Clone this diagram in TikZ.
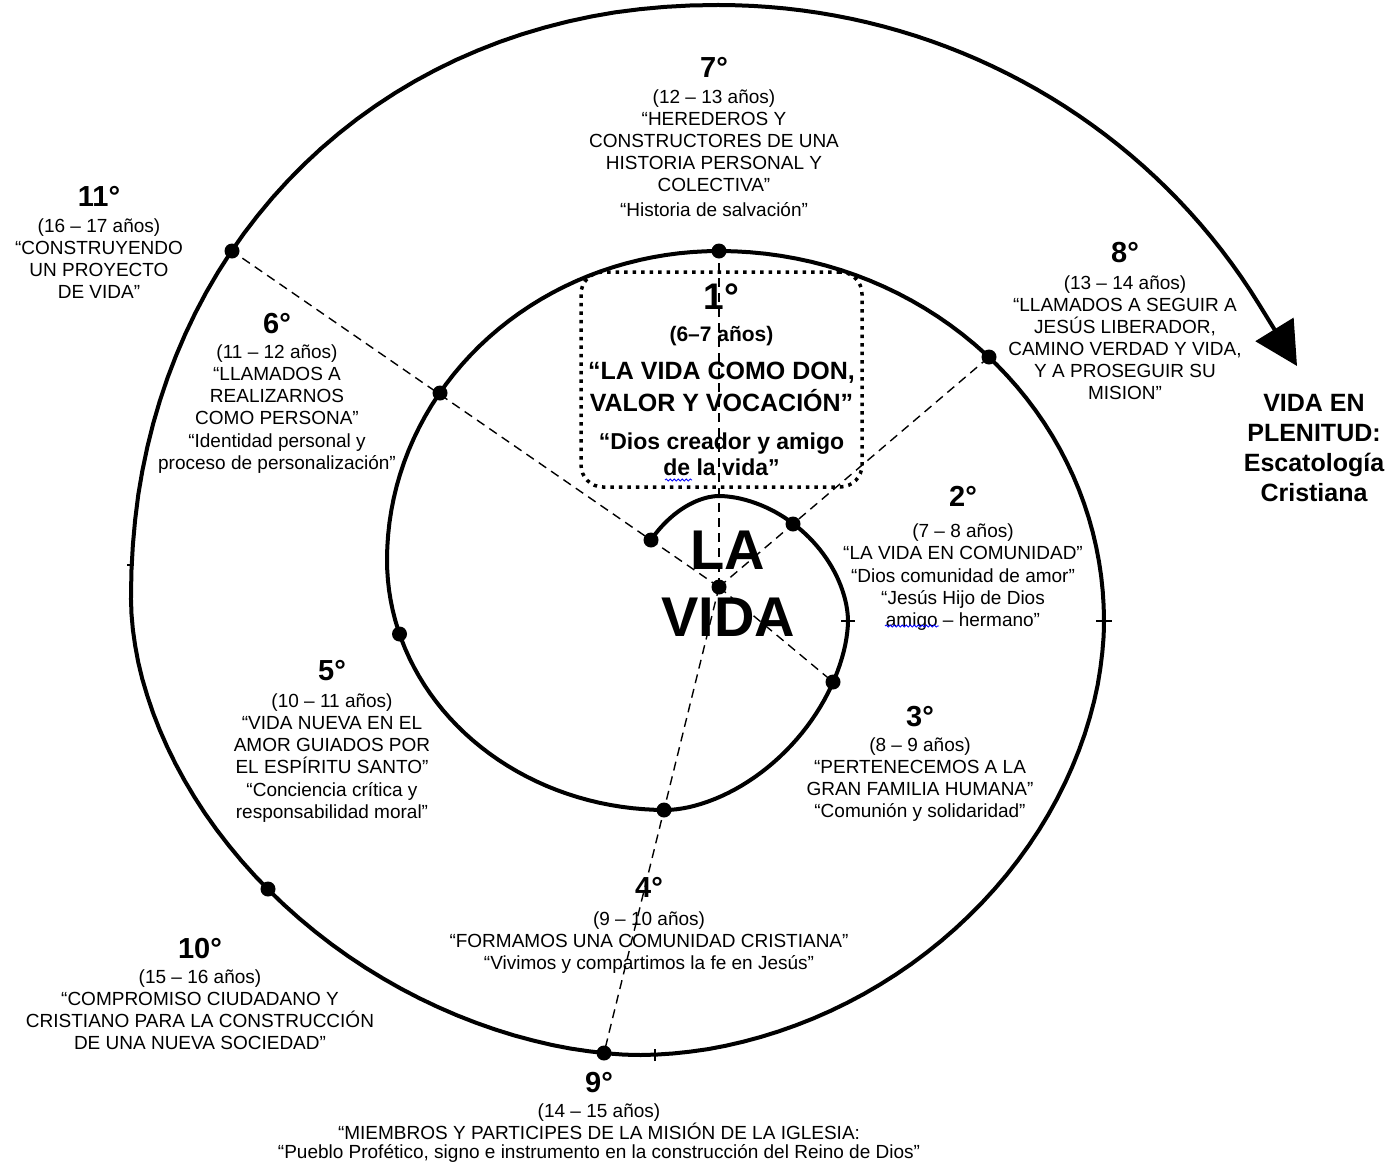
\documentclass[tikz,border=0pt]{standalone}
\usepackage{fontspec}
\setmainfont{Liberation Sans}
\usetikzlibrary{arrows.meta,decorations.pathmorphing}
\newcommand{\etapa}[1]{{\fontsize{29}{29}\selectfont\bfseries #1}}
\newcommand{\tramo}[7]{-- plot[domain=#6:#7, samples=40]
  ({#1+#3*sign(cos(\x))*abs(cos(\x))^#5}, {#2+#4*sign(sin(\x))*abs(sin(\x))^#5})}

\begin{document}
\begin{tikzpicture}[x=1pt, y=-1pt,
  etiqueta/.style={align=center, inner sep=0pt, anchor=north,
                   font=\fontsize{19}{22}\selectfont},
  caja/.style={draw, line width=3.5pt, dash pattern=on 3.5pt off 5pt,
               rounded corners=22pt, minimum width=281pt, minimum height=215pt,
               align=center, inner sep=0pt, font=\fontsize{25}{32}\selectfont\bfseries},
  espiral/.style={line width=4pt, line join=round, -{Triangle[length=43pt, width=44pt]}},
  rayo/.style={dash pattern=on 9pt off 6pt, line width=1.4pt},
  marca/.style={line width=1.4pt},
  ondulado/.style={draw=blue, line width=0.8pt, decorate,
                   decoration={snake, amplitude=1.1pt, segment length=4pt}}]

\useasboundingbox (0,0) rectangle (1391,1162);

\coordinate (c) at (719,587);
\coordinate (e1) at (651,540);
\coordinate (e2) at (793,524);
\coordinate (e3) at (833,682);
\coordinate (e4) at (664,810);
\coordinate (e5) at (399.5,634);
\coordinate (e6) at (440,393);
\coordinate (e7) at (719,251);
\coordinate (e8) at (989,357);
\coordinate (e9) at (604,1053);
\coordinate (e10) at (268,889);
\coordinate (e11) at (232,251);
\coordinate (fin) at (1297,366);

\draw[rayo] (c) -- (e7);
\draw[rayo] (c) -- (e8);
\draw[rayo] (c) -- (e11);
\draw[rayo] (c) -- (e3);
\draw[rayo] (c) -- (e9);

\draw[espiral] (e1)
  \tramo{719}{621}{95}{125}{1.099}{222.5}{269.95}
  \tramo{719}{621}{129}{125}{1.099}{270.05}{359.95}
  \tramo{666}{621}{182}{189}{1.143}{0.05}{89.95}
  \tramo{666}{560}{279}{250}{1}{90.05}{179.95}
  \tramo{719}{560}{332}{309}{1}{180.05}{269.95}
  \tramo{719}{621}{385}{370}{1}{270.05}{359.95}
  \tramo{640}{621}{464}{434}{1.053}{0.05}{89.95}
  \tramo{640}{600}{509}{455}{1.093}{90.05}{179.95}
  \tramo{719}{600}{588}{595}{0.952}{180.05}{269.95}
  \tramo{719}{625}{631}{620}{1}{270.05}{328.85}
  -- (fin);

\foreach \p in {c,e1,e2,e3,e4,e5,e6,e7,e8,e9,e10,e11}
  \fill (\p) circle (7.5);

\coordinate (j1) at (848,621);
\coordinate (j2) at (1104,621);
\coordinate (j3) at (655,1055);
\coordinate (j4) at (131,565);
\draw[marca] ([xshift=-7pt]j1) -- ([xshift=7pt]j1);
\draw[marca] ([xshift=-8pt]j2) -- ([xshift=8pt]j2);
\draw[marca] ([yshift=-6pt]j3) -- ([yshift=6pt]j3);
\draw[marca] ([xshift=-4pt]j4) -- ([xshift=3pt]j4);

\node[caja] (g1) at (721.5,379.5) {{\fontsize{37}{37}\selectfont 1°}\\
  {\fontsize{21}{21}\selectfont (6–7 años)}\\[6pt]
  “LA VIDA COMO DON,\\VALOR Y VOCACIÓN”\\[6pt]
  {\fontsize{23}{23}\selectfont “Dios creador y amigo}\\[-6pt]
  {\fontsize{23}{23}\selectfont de la vida”}};

\node[font=\fontsize{56}{67}\selectfont\bfseries, align=center, inner sep=0pt]
  (vida) at (728,583.5) {LA\\VIDA};

\node[etiqueta] (g2) at (963,485.6) {\etapa{2°}\\[9.5pt]
  (7 – 8 años)\\“LA VIDA EN COMUNIDAD”\\[1pt]“Dios comunidad de amor”\\
  “Jesús Hijo de Dios\\amigo – hermano”};
\node[etiqueta] (g3) at (920,705.6) {\etapa{3°}\\[3.5pt]
  (8 – 9 años)\\“PERTENECEMOS A LA\\GRAN FAMILIA HUMANA”\\
  “Comunión y solidaridad”};
\node[etiqueta] (g4) at (649,877.6) {\etapa{4°}\\[5.5pt]
  (9 – 10 años)\\“FORMAMOS UNA COMUNIDAD CRISTIANA”\\
  “Vivimos y compartimos la fe en Jesús”};
\node[etiqueta] (g5) at (332,660.6) {\etapa{5°}\\[4.5pt]
  (10 – 11 años)\\“VIDA NUEVA EN EL\\AMOR GUIADOS POR\\EL ESPÍRITU SANTO”\\[1pt]
  “Conciencia crítica y\\responsabilidad moral”};
\node[etiqueta] (g6) at (277,312.6) {\etapa{6°}\\[3.5pt]
  (11 – 12 años)\\“LLAMADOS A\\REALIZARNOS\\COMO PERSONA”\\[1pt]
  “Identidad personal y\\proceso de personalización”};
\node[etiqueta] (g7) at (714,57.6) {\etapa{7°}\\[3.5pt]
  (12 – 13 años)\\“HEREDEROS Y\\CONSTRUCTORES DE UNA\\HISTORIA PERSONAL Y\\
  COLECTIVA”\\[3pt]“Historia de salvación”};
\node[etiqueta] (g8) at (1125,241.6) {\etapa{8°}\\[5.5pt]
  (13 – 14 años)\\“LLAMADOS A SEGUIR A\\JESÚS LIBERADOR,\\
  CAMINO VERDAD Y VIDA,\\Y A PROSEGUIR SU\\MISION”};
\node[etiqueta] (g9) at (599,1071.6) {\etapa{9°}\\[3.5pt]
  (14 – 15 años)\\“MIEMBROS Y PARTICIPES DE LA MISIÓN DE LA IGLESIA:\\[-3pt]
  “Pueblo Profético, signo e instrumento en la construcción del Reino de Dios”};
\node[etiqueta] (g10) at (200,937.6) {\etapa{10°}\\[3.5pt]
  (15 – 16 años)\\“COMPROMISO CIUDADANO Y\\CRISTIANO PARA LA CONSTRUCCIÓN\\
  DE UNA NUEVA SOCIEDAD”};
\node[etiqueta] (g11) at (99,186.6) {\etapa{11°}\\[3.5pt]
  (16 – 17 años)\\“CONSTRUYENDO\\UN PROYECTO\\DE VIDA”};

\node[etiqueta, font=\fontsize{25}{30}\selectfont\bfseries] (plenitud)
  at (1314,394) {VIDA EN\\PLENITUD:\\Escatología\\Cristiana};

\draw[ondulado] (885,626) -- (939,626);
\draw[ondulado] (665,480) -- (692,480);
\end{tikzpicture}
\end{document}
